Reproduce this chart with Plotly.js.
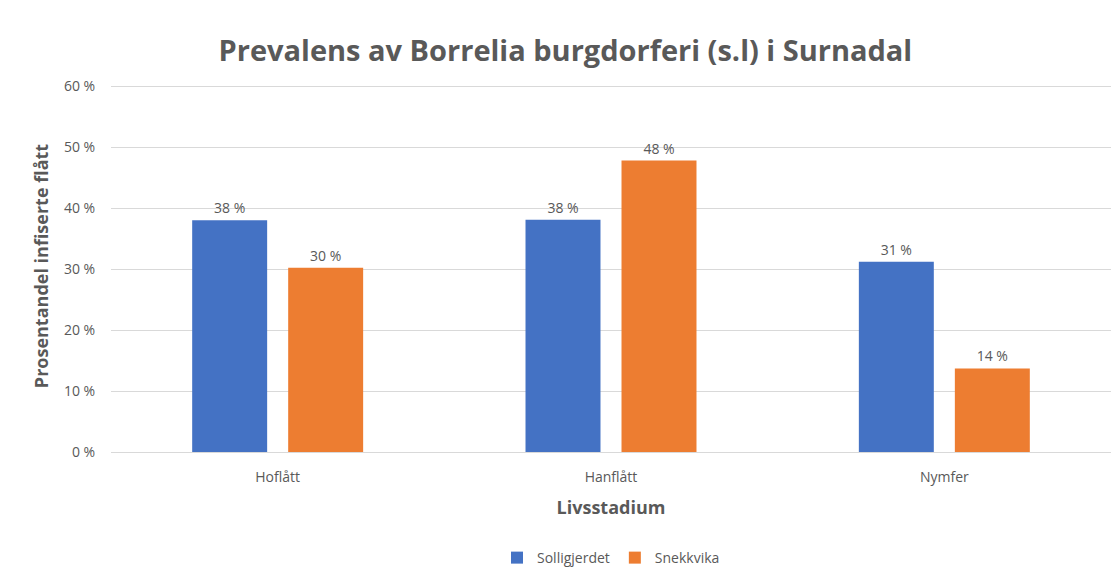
<!DOCTYPE html>
<html>
<head>
<meta charset="utf-8">
<script src="https://cdn.plot.ly/plotly-3.0.1.min.js"></script>
<style>html,body{margin:0;padding:0;background:#fff;}#chart{width:1113px;height:582px;}</style>
</head>
<body>
<div id="chart"></div>
<script>
const categories = ["Hoflått", "Hanflått", "Nymfer"];
const seriesNames = ["Solligjerdet", "Snekkvika"];
const solligjerdet = [38.0, 38.1, 31.2];
const snekkvika = [30.2, 47.8, 13.7];
const yTickVals = [0, 10, 20, 30, 40, 50, 60];
const yTickText = ["0 %", "10 %", "20 %", "30 %", "40 %", "50 %", "60 %"];

const font = "'Open Sans', 'Noto Sans', sans-serif";
const txt = "#595959";

const mk = (name, vals, color) => ({
  type: "bar", name: name, x: categories, y: vals,
  marker: {color: color},
  text: vals.map(v => Math.round(v) + " %"),
  textposition: "outside", cliponaxis: false,
  textfont: {family: font, size: 14, color: txt},
  hoverinfo: "skip"
});

const data = [
  mk(seriesNames[0], solligjerdet, "#4472C4"),
  mk(seriesNames[1], snekkvika, "#ED7D31")
];

const layout = {
  width: 1113, height: 582,
  margin: {l: 111, r: 2, t: 80, b: 130},
  paper_bgcolor: "#fff", plot_bgcolor: "#fff",
  font: {family: font, color: txt},
  title: {text: "<b>Prevalens av Borrelia burgdorferi (s.l) i Surnadal</b>",
          font: {family: font, size: 29, color: txt}, x: 0.508, xanchor: "center", y: 0.913, yanchor: "middle"},
  barmode: "group", bargap: 0.424, bargroupgap: 0.219,
  xaxis: {
    showgrid: false, showline: true, linecolor: "#d9d9d9", linewidth: 1,
    ticks: "outside", ticklen: 12, tickcolor: "rgba(0,0,0,0)",
    tickfont: {family: font, size: 14, color: txt},
    title: {text: "<b>Livsstadium</b>", font: {family: font, size: 18, color: txt}, standoff: 16}
  },
  yaxis: {
    range: [0, 61], tickvals: yTickVals, ticktext: yTickText,
    showgrid: true, gridcolor: "#d9d9d9", gridwidth: 1, zeroline: false,
    ticks: "outside", ticklen: 12, tickcolor: "rgba(0,0,0,0)",
    tickfont: {family: font, size: 14, color: txt},
    title: {text: "<b>Prosentandel infiserte flått</b>", font: {family: font, size: 18, color: txt}, standoff: 10}
  },
  showlegend: true,
  legend: {orientation: "h", x: 0.5, xanchor: "center", y: -0.285, yanchor: "middle",
           font: {family: font, size: 14, color: txt}, itemwidth: 30, traceorder: "normal"}
};

Plotly.newPlot("chart", data, layout, {displayModeBar: false, staticPlot: true});
</script>
</body>
</html>
